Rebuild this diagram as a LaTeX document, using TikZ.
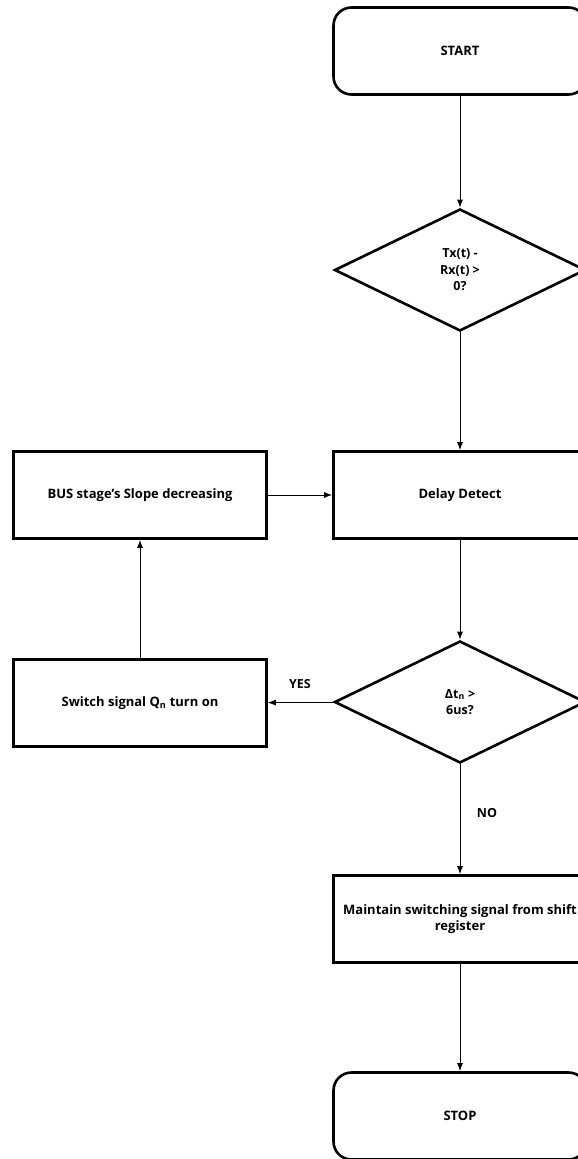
\documentclass[tikz,border=0pt]{standalone}
\usepackage{fontspec}
\setmainfont{Open Sans}
\usetikzlibrary{arrows,arrows.meta,shapes}
\usetikzlibrary{positioning}
\tikzstyle{terminal}=[draw,rounded corners=18pt,line width=2.6pt,minimum width=253pt,minimum height=87pt,font=\bfseries\fontsize{13}{16}\selectfont]
\tikzstyle{process}=[draw,line width=2.6pt,minimum width=253pt,minimum height=87pt,align=center,font=\bfseries\fontsize{13}{16}\selectfont]
\tikzstyle{decision}=[diamond,draw,line width=2.6pt,minimum width=251pt,minimum height=122pt,inner sep=0pt,align=center,font=\bfseries\fontsize{12.5}{16.5}\selectfont]
\tikzstyle{edge} = [draw,line width=1pt,-{Latex[length=8pt,width=6pt]}]
\tikzstyle{weight} = [font=\bfseries\fontsize{12.5}{14}\selectfont]

\begin{document}
\begin{tikzpicture}[x=1pt,y=-1pt]
    \useasboundingbox (0,0) rectangle (578,1159);
    \clip (0,0) rectangle (578,1159);

    % First we draw the steps of the flow
    \foreach \pos/\name/\label in {{(460,51)/start/START}, {(460,1116)/stop/STOP}}
        \node[terminal] (\name) at \pos {\label};

    \foreach \pos/\name/\label in {{(460,495)/delay/Delay Detect}, {(140,495)/bus/BUS stage's Slope decreasing}, {(140,703)/switch/Switch signal Q\textsubscript{n} turn on}, {(460,919)/keep/Maintain switching signal from shift\\register}}
        \node[process] (\name) at \pos {\label};

    \foreach \pos/\name/\label in {{(460,270)/txrx/Tx(t) -\\Rx(t) >\\0?}, {(460,702)/dt/Δt\textsubscript{n} >\\6us?}}
        \node[decision] (\name) at \pos {\label};

    % Connect the steps with arrows
    \foreach \source/ \dest in {start/txrx, txrx/delay, bus/delay, delay/dt, dt/keep, keep/stop}
        \path[edge] (\source) -- (\dest);
    \path[edge] (switch) -- (bus);
    \path[edge, line width=0.8pt] (dt) -- (switch);

    % Labels of the two answers
    \node[weight] (yes) at (300,684) {YES};
    \node[weight] (no) at (487,813) {NO};

\end{tikzpicture}
\end{document}
